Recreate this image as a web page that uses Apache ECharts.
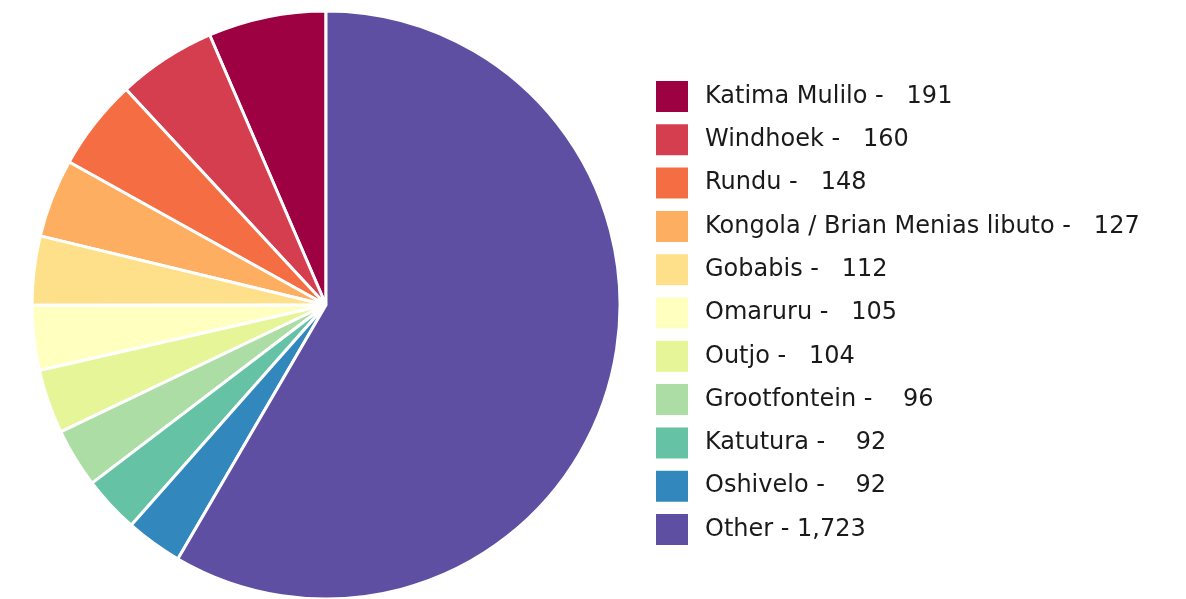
<!DOCTYPE html>
<html>
<head>
<meta charset="utf-8">
<script src="https://cdn.jsdelivr.net/npm/echarts@6/dist/echarts.min.js"></script>
<style>
  html, body { margin: 0; padding: 0; background: #fff; }
  #chart { width: 1186px; height: 599px; }
</style>
</head>
<body>
<div id="chart"></div>
<script>
// 地点名称
const places = ['Katima Mulilo', 'Windhoek', 'Rundu', 'Kongola / Brian Menias libuto', 'Gobabis',
  'Omaruru', 'Outjo', 'Grootfontein', 'Katutura', 'Oshivelo', 'Other']
// 数量
const counts = [191, 160, 148, 127, 112, 105, 104, 96, 92, 92, 1723]
// 颜色 (Spectral)
const colors = ['#9E0142', '#D53E4F', '#F46D43', '#FDAE61', '#FEE08B', '#FFFFBF',
  '#E6F598', '#ABDDA4', '#66C2A5', '#3288BD', '#5E4FA2']

const chart = echarts.init(document.getElementById('chart'))

const fmt = (v) => v.toLocaleString('en-US').padStart(5, ' ')

const option = {
  animation: false,
  color: colors,
  legend: {
    orient: 'vertical',
    left: 654,
    top: 79,
    padding: 0,
    itemWidth: 34,
    itemHeight: 33,
    itemGap: 8.3,
    icon: 'rect',
    data: places,
    textStyle: {
      fontFamily: 'DejaVu Sans',
      fontSize: 24,
      color: '#1a1a1a',
      padding: [0, 0, 0, 11]
    },
    formatter: (name) => name + ' - ' + fmt(counts[places.indexOf(name)])
  },
  series: [
    {
      type: 'pie',
      center: [326, 305],
      radius: [0, 294],
      startAngle: 90,
      clockwise: false,
      label: { show: false },
      labelLine: { show: false },
      itemStyle: {
        borderColor: '#fff',
        borderWidth: 3
      },
      data: places.map((name, i) => ({ name, value: counts[i] }))
    }
  ]
}

chart.setOption(option)
</script>
</body>
</html>
